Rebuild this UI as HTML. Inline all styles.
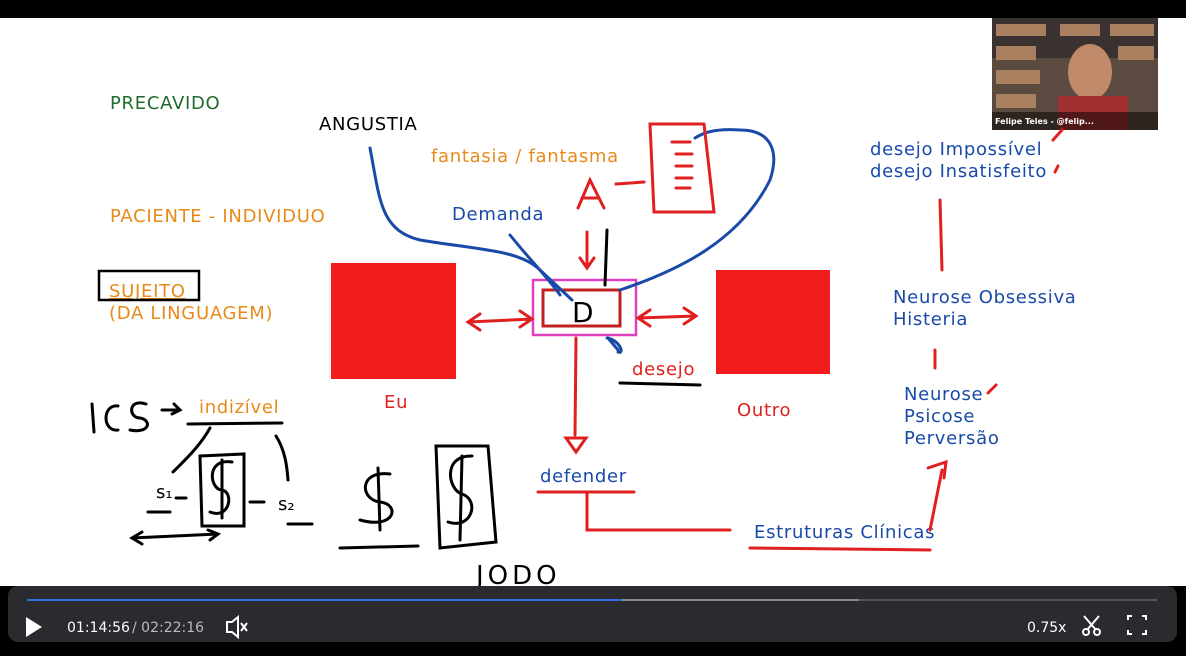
<!DOCTYPE html>
<html><head><style>
html,body{margin:0;padding:0;width:1186px;height:656px;overflow:hidden;background:#fff}
svg{display:block}
text{font-family:"DejaVu Sans","Liberation Sans",sans-serif}
</style></head><body>
<svg width="1186" height="656" viewBox="0 0 1186 656">
<rect x="0" y="0" width="1186" height="18" fill="#000"/>
<!-- webcam -->
<rect x="992" y="18" width="166" height="112" fill="#5a4a40"/>
<rect x="992" y="18" width="166" height="40" fill="#3a3230"/>
<g fill="#a88060"><rect x="996" y="24" width="50" height="12"/><rect x="1060" y="24" width="40" height="12"/><rect x="1110" y="24" width="44" height="12"/><rect x="996" y="46" width="40" height="14"/><rect x="1118" y="46" width="36" height="14"/><rect x="996" y="70" width="44" height="14"/><rect x="996" y="94" width="40" height="14"/></g>
<ellipse cx="1090" cy="72" rx="22" ry="28" fill="#c08a6a"/>
<rect x="1058" y="96" width="70" height="34" fill="#a03030"/>
<rect x="992" y="112" width="166" height="18" fill="rgba(0,0,0,0.5)"/>
<text x="995" y="124" font-size="8" fill="#fff" font-weight="bold" font-family="Liberation Sans">Felipe Teles - @felip...</text>

<g font-size="18" letter-spacing="0.7">
<text x="110" y="109" fill="#1e6b2e">PRECAVIDO</text>
<text x="319" y="130" fill="#000">ANGUSTIA</text>
<text x="431" y="162" fill="#e88a1a">fantasia / fantasma</text>
<text x="110" y="222" fill="#e88a1a">PACIENTE - INDIVIDUO</text>
<text x="452" y="220" fill="#1a4aa8">Demanda</text>
<text x="109" y="297" fill="#e88a1a" text-decoration="underline">SUJEITO</text>
<text x="109" y="319" fill="#e88a1a">(DA LINGUAGEM)</text>
<text x="384" y="408" fill="#e02020">Eu</text>
<text x="737" y="416" fill="#e02020">Outro</text>
<text x="632" y="375" fill="#e02020">desejo</text>
<text x="199" y="413" fill="#e88a1a">indizível</text>
<text x="540" y="482" fill="#1a4aa8">defender</text>
<text x="754" y="538" fill="#1a4aa8">Estruturas Clínicas</text>
<text x="870" y="155" fill="#1a4aa8">desejo Impossível</text>
<text x="870" y="177" fill="#1a4aa8">desejo Insatisfeito</text>
<text x="893" y="303" fill="#1a4aa8">Neurose Obsessiva</text>
<text x="893" y="325" fill="#1a4aa8">Histeria</text>
<text x="904" y="400" fill="#1a4aa8">Neurose</text>
<text x="904" y="422" fill="#1a4aa8">Psicose</text>
<text x="904" y="444" fill="#1a4aa8">Perversão</text>
</g>
<rect x="99" y="271" width="100" height="29" fill="none" stroke="#000" stroke-width="2.5"/>
<rect x="331" y="263" width="125" height="116" fill="#f21c1c"/>
<rect x="716" y="270" width="114" height="104" fill="#f21c1c"/>
<rect x="533" y="280" width="103" height="55" fill="none" stroke="#e040c0" stroke-width="2.5"/>
<rect x="543" y="290" width="77" height="36" fill="none" stroke="#c02020" stroke-width="3"/>
<text x="572" y="322" font-size="28" fill="#000">D</text>
<g fill="none" stroke-width="3" stroke-linecap="round">
<path d="M370 148 C380 200 380 230 420 240 C480 250 520 250 540 270 L572 300" stroke="#1a4aa8"/>
<path d="M510 235 C530 260 550 280 560 295" stroke="#1a4aa8"/>
<path d="M620 290 C680 270 740 240 770 180 C780 150 770 130 740 130 C710 128 700 135 695 138" stroke="#1a4aa8"/>
<path d="M607 230 L605 285" stroke="#000"/>
<path d="M608 338 L618 350 M607 338 C620 340 625 355 618 352" stroke="#1a4aa8"/>
<path d="M468 322 L532 319 M480 314 L468 322 L480 330 M520 311 L532 319 L520 327" stroke="#e02020"/>
<path d="M638 318 L696 316 M650 310 L638 318 L650 326 M684 308 L696 316 L684 324" stroke="#e02020"/>
<path d="M576 338 L575 435 M566 438 L586 438 L576 452 Z" stroke="#e02020"/>
<path d="M587 232 L587 268 M580 258 L587 268 L594 258" stroke="#e02020"/>
<path d="M578 208 L590 180 L604 208 M582 198 L598 198 M616 184 L644 182" stroke="#e02020"/>
<path d="M650 124 L704 124 L714 212 L654 212 Z M672 142 L690 142 M676 154 L692 154 M676 166 L692 166 M676 178 L692 178 M676 188 L690 188" stroke="#e02020"/>
<path d="M620 383 L700 385" stroke="#000"/>
<path d="M538 492 L634 492 M587 492 L587 530 L730 530" stroke="#e02020"/>
<path d="M750 548 L930 550" stroke="#e02020"/>
<path d="M930 530 L942 470 M928 468 L946 462 L944 478" stroke="#e02020"/>
<path d="M935 350 L935 368 M940 200 L942 270 M988 393 L996 385 M1053 140 L1062 130 M1055 172 L1058 166" stroke="#e02020"/>
<!-- bottom-left handwriting -->
<path d="M92 404 L94 432 M118 406 C102 404 102 432 118 430 M146 404 C128 398 128 418 140 418 C152 420 150 434 130 430 M162 410 L178 410 M174 404 L180 410 L172 414" stroke="#000"/>
<path d="M188 424 L282 423 M210 428 C200 446 185 460 173 472 M276 436 C285 450 287 466 288 480" stroke="#000"/>
<path d="M200 456 L244 454 L244 526 L202 526 Z M232 462 C205 458 210 490 222 490 C234 492 230 520 210 512 M222 460 L222 518" stroke="#000"/>
<path d="M148 512 L170 512 M176 498 L186 498 M250 502 L264 502 M288 524 L312 524 M132 538 L218 534 M142 532 L132 538 L142 544 M208 530 L218 534 L210 540" stroke="#000"/>
<path d="M340 548 L418 546 M390 474 C358 470 360 500 380 502 C400 504 396 530 360 520 M378 468 L380 530" stroke="#000"/>
<path d="M436 446 L488 446 L496 542 L440 548 Z M472 456 C442 455 448 490 462 494 C480 500 472 530 448 522 M462 456 L460 540" stroke="#000"/>
</g>
<text x="156" y="498" font-size="18" fill="#000">s₁</text>
<text x="278" y="510" font-size="18" fill="#000">s₂</text>
<text x="476" y="584" font-size="26" fill="#000" letter-spacing="4">JODO</text>

<!-- player bar -->
<rect x="0" y="586" width="1186" height="70" fill="#000"/>
<rect x="8" y="586" width="1169" height="56" rx="10" fill="#2b2b2f"/>
<rect x="27" y="599" width="1130" height="2" fill="#555"/>
<rect x="27" y="599" width="832" height="2" fill="#888"/>
<rect x="27" y="599" width="595" height="2" fill="#2f6fe0"/>
<path d="M26 617 L26 637 L42 627 Z" fill="#fff"/>
<text x="67" y="632" font-size="14" fill="#fff" font-family="Liberation Sans">01:14:56</text>
<text x="132" y="632" font-size="14" fill="#bbb" font-family="Liberation Sans">/ 02:22:16</text>
<path d="M227 622 L232 622 L238 617 L238 637 L232 632 L227 632 Z" fill="none" stroke="#fff" stroke-width="2"/>
<path d="M241 623 L247 631 M247 623 L241 631" stroke="#fff" stroke-width="2"/>
<text x="1027" y="632" font-size="14" fill="#fff" font-family="Liberation Sans">0.75x</text>
<g stroke="#fff" stroke-width="2" fill="none"><circle cx="1086" cy="632" r="3"/><circle cx="1097" cy="632" r="3"/><path d="M1084 616 L1096 630 M1099 616 L1087 630"/>
<path d="M1128 620 L1128 616 L1132 616 M1142 616 L1146 616 L1146 620 M1146 630 L1146 634 L1142 634 M1132 634 L1128 634 L1128 630"/></g>
</svg>
</body></html>
